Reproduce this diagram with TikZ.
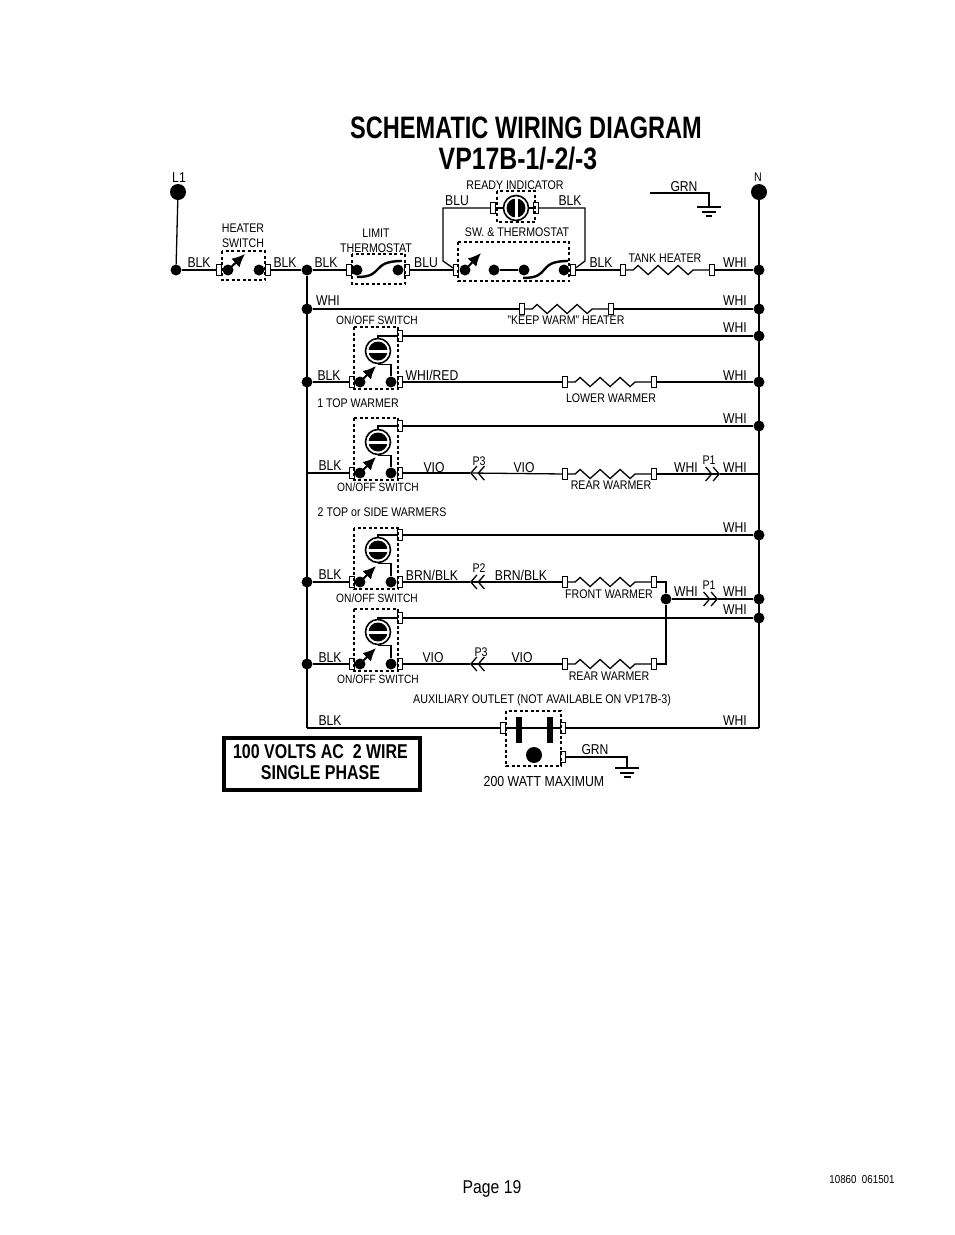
\documentclass[tikz,border=0pt]{standalone}
\usepackage{fontspec}
\setmainfont[FakeStretch=0.85]{Liberation Sans}
\newfontfamily\titlefont[FakeStretch=0.8]{Liberation Sans}
\newfontfamily\headfont[FakeStretch=0.76]{Liberation Sans}
\usetikzlibrary{positioning, calc, arrows.meta, decorations.pathmorphing}
\tikzset{
  wire/.style={line width=1.3pt},
  heavy/.style={line width=2pt},
  lab/.style={inner sep=0pt, yshift=-1pt, font=\fontsize{14.3}{15}\selectfont, align=center},
  sml/.style={inner sep=0pt, font=\fontsize{12.5}{14.5}\selectfont, align=center},
  swl/.style={inner sep=0pt, font=\fontsize{12}{14}\selectfont},
  dot/.style={circle, fill=black, inner sep=0pt, minimum size=11pt},
  bigdot/.style={circle, fill=black, inner sep=0pt, minimum size=16pt},
  term/.style={rectangle, draw=black, fill=white, line width=1.2pt, inner sep=0pt, minimum width=5pt, minimum height=10.5pt},
  dashbox/.style={line width=1.5pt, dash pattern=on 3pt off 2.5pt},
  lever/.style={line width=2pt, -{Latex[length=13pt,width=12pt]}},
  bimetal/.style={line width=2.4pt},
  knob/.style={circle, draw=black, fill=white, line width=1.6pt, inner sep=0pt, minimum size=25pt},
  heater/.style={wire, decorate, decoration={zigzag, segment length=20pt, amplitude=4.5pt, pre length=7pt, post length=7pt}},
  chev/.style={wire, -{Straight Barb[length=6pt,width=14pt,line width=1.3pt]Straight Barb[length=6pt,width=14pt,line width=1.3pt]}}
}
\begin{document}
\begin{tikzpicture}[x=1pt,y=-1pt]
      \useasboundingbox (0,0) rectangle (954,1235);
      \node[font=\headfont\bfseries\fontsize{31}{31}\selectfont, inner sep=0pt] (title1) at (526,128) {SCHEMATIC WIRING DIAGRAM};
      \node[font=\titlefont\bfseries\fontsize{31}{31}\selectfont, inner sep=0pt] (title2) at (518,159) {VP17B-1/-2/-3};
      % mains and top row
      \node[bigdot] (l1) at (178,192) {};
      \node[bigdot] (n1) at (759,192) {};
      \node[dot] (j0) at (176,270) {};
      \node[dot] (j1) at (307,270) {};
      \node[dot] (j2) at (307,309) {};
      \node[dot] (j3) at (307,382) {};
      \node[dot] (j4) at (307,582) {};
      \node[dot] (j5) at (307,664) {};
      \coordinate (j6) at (307,473);
      \coordinate (j7) at (307,728);
      \node[dot] (r1) at (759,270) {};
      \node[dot] (r2) at (759,309) {};
      \node[dot] (r3) at (759,336) {};
      \node[dot] (r4) at (759,382) {};
      \node[dot] (r5) at (759,426) {};
      \coordinate (r6) at (759,474);
      \node[dot] (r7) at (759,535) {};
      \node[dot] (r8) at (759,599) {};
      \node[dot] (r9) at (759,618) {};
      \coordinate (r10) at (759,728);
      \draw[wire] (l1)--(j0);
      \draw[wire] (n1)--(r10);
      \draw[wire] (j1)--(j7);
      \draw[wire] (j7)--(r10);
      % heater switch
      \node[term] (hs1) at (219,270) {};
      \node[term] (hs2) at (268,270) {};
      \node[dot] (hs3) at (228,270) {};
      \node[dot] (hs4) at (259,270) {};
      \draw[dashbox] (222,251) rectangle (265,280);
      \draw[lever] (hs3.center)--++(17,-16);
      \draw[wire] (j0)--(hs1);
      \draw[wire] (hs2)--(j1);
      % limit thermostat
      \node[term] (lt1) at (349,270) {};
      \node[term] (lt2) at (407,270) {};
      \node[dot] (lt3) at (357,270) {};
      \node[dot] (lt4) at (398,270) {};
      \draw[dashbox] (352,254) rectangle (405,284);
      \draw[bimetal] (357,277) .. controls (385,277) and (370,261) .. (402,261);
      \draw[wire] (j1)--(lt1);
      \node[term] (st1) at (456,270) {};
      \draw[wire] (lt2)--(st1);
      % sw. and thermostat
      \node[term] (st2) at (573,270) {};
      \node[dot] (st3) at (465,270) {};
      \node[dot] (st4) at (494,270) {};
      \node[dot] (st5) at (524,270) {};
      \node[dot] (st6) at (564,270) {};
      \draw[dashbox] (458,242) rectangle (569,281);
      \draw[lever] (st3.center)--++(16,-17);
      \draw[wire] (st4)--(st5);
      \draw[bimetal] (523,278) .. controls (552,278) and (536,261) .. (568,261);
      % ready indicator
      \node[term] (ri1) at (493,208) {};
      \node[term] (ri2) at (536,208) {};
      \node[knob] (ri3) at (516,208) {};
      \fill (ri3.center) circle[radius=9.5];
      \fill[white] (ri3.center) ++(-1.5,-11) rectangle ++(3,22);
      \draw[dashbox] (497,191) rectangle (535,222);
      \coordinate (bl1) at (443,208);
      \coordinate (bl2) at (443,261);
      \coordinate (bk1) at (585,208);
      \coordinate (bk2) at (585,261);
      \draw[wire] (st1)--(bl2)--(bl1)--(ri1);
      \draw[wire] (ri3)--(ri1);
      \draw[wire] (ri3)--(ri2);
      \draw[wire] (ri2)--(bk1)--(bk2)--(st2);
      % tank heater
      \node[term] (th1) at (623,270) {};
      \node[term] (th2) at (712,270) {};
      \draw[wire] (st2)--(th1);
      \draw[heater] (th1)--(th2);
      \draw[wire] (th2)--(r1);
      % ground top
      \coordinate (g1) at (650,193);
      \coordinate (g2) at (709,207);
      \draw[heavy] (g1)-|(g2);
      \draw[wire] (g2) ++(-12,0)--++(24,0);
      \draw[wire] (g2) ++(-7,5)--++(14,0);
      \draw[heavy] (g2) ++(-3,9)--++(6,0);
      % keep warm
      \node[term] (kw1) at (522,309) {};
      \node[term] (kw2) at (611,309) {};
      \draw[heavy] (j2)--(kw1);
      \draw[heater] (kw1)--(kw2);
      \draw[heavy] (kw2)--(r2);
      % first on/off switch
      \node[term] (a1) at (400,336) {};
      \node[term] (a2) at (352,382) {};
      \node[term] (a3) at (400,382) {};
      \node[knob] (a4) at (378,351) {};
      \fill (a4.center) circle[radius=9.5];
      \fill[white] (a4.center) ++(-11,-1.5) rectangle ++(22,3);
      \node[dot] (a5) at (360,382) {};
      \node[dot] (a6) at (391,382) {};
      \draw[dashbox] (354,327) rectangle (398,389);
      \draw[lever] (a5.center)--++(16,-16);
      \draw[wire] (a4.north)|-(a1);
      \draw[wire] (a4.south)-|(a6);
      \draw[wire] (a1)--(r3);
      \draw[wire] (j3)--(a2);
      \node[term] (lw1) at (565,382) {};
      \node[term] (lw2) at (654,382) {};
      \draw[wire] (a3)--(lw1);
      \draw[heater] (lw1)--(lw2);
      \draw[wire] (lw2)--(r4);
      % second on/off switch
      \node[term] (b1) at (400,426) {};
      \node[term] (b2) at (352,473) {};
      \node[term] (b3) at (400,473) {};
      \node[knob] (b4) at (378,442) {};
      \fill (b4.center) circle[radius=9.5];
      \fill[white] (b4.center) ++(-11,-1.5) rectangle ++(22,3);
      \node[dot] (b5) at (360,473) {};
      \node[dot] (b6) at (391,473) {};
      \draw[dashbox] (354,418) rectangle (398,480);
      \draw[lever] (b5.center)--++(16,-16);
      \draw[wire] (b4.north)|-(b1);
      \draw[wire] (b4.south)-|(b6);
      \draw[wire] (b1)--(r5);
      \draw[wire] (j6)--(b2);
      \coordinate (p3a) at (470,473);
      \coordinate (p1a) at (720,474);
      \node[term] (rw1) at (565,474) {};
      \node[term] (rw2) at (654,474) {};
      \draw[wire] (b3)--(p3a);
      \draw[chev] (rw1)--(p3a);
      \draw[heater] (rw1)--(rw2);
      \draw[chev] (rw2)--(p1a);
      \draw[wire] (p1a)--(r6);
      % third on/off switch
      \node[term] (c1) at (400,535) {};
      \node[term] (c2) at (352,582) {};
      \node[term] (c3) at (400,582) {};
      \node[knob] (c4) at (378,550) {};
      \fill (c4.center) circle[radius=9.5];
      \fill[white] (c4.center) ++(-11,-1.5) rectangle ++(22,3);
      \node[dot] (c5) at (360,582) {};
      \node[dot] (c6) at (391,582) {};
      \draw[dashbox] (354,528) rectangle (398,589);
      \draw[lever] (c5.center)--++(16,-16);
      \draw[wire] (c4.north)|-(c1);
      \draw[wire] (c4.south)-|(c6);
      \draw[wire] (c1)--(r7);
      \draw[wire] (j4)--(c2);
      \coordinate (p2a) at (470,582);
      \coordinate (p1b) at (718,599);
      \node[term] (fw1) at (565,582) {};
      \node[term] (fw2) at (654,582) {};
      \node[dot] (fw3) at (666,599) {};
      \draw[wire] (c3)--(p2a);
      \draw[chev] (fw1)--(p2a);
      \draw[heater] (fw1)--(fw2);
      \draw[chev] (fw3)--(p1b);
      \draw[heavy] (p1b)--(r8);
      % fourth on/off switch
      \node[term] (d1) at (400,618) {};
      \node[term] (d2) at (352,664) {};
      \node[term] (d3) at (400,664) {};
      \node[knob] (d4) at (378,632) {};
      \fill (d4.center) circle[radius=9.5];
      \fill[white] (d4.center) ++(-11,-1.5) rectangle ++(22,3);
      \node[dot] (d5) at (360,664) {};
      \node[dot] (d6) at (391,664) {};
      \draw[dashbox] (354,609) rectangle (398,671);
      \draw[lever] (d5.center)--++(16,-16);
      \draw[wire] (d4.north)|-(d1);
      \draw[wire] (d4.south)-|(d6);
      \draw[wire] (d1)--(r9);
      \draw[wire] (j5)--(d2);
      \coordinate (p3b) at (470,664);
      \node[term] (rx1) at (565,664) {};
      \node[term] (rx2) at (654,664) {};
      \draw[wire] (d3)--(p3b);
      \draw[chev] (rx1)--(p3b);
      \draw[heater] (rx1)--(rx2);
      \draw[wire] (fw2)-|(fw3);
      \draw[wire] (rx2)-|(fw3);
      % outlet
      \node[term] (ou1) at (503,728) {};
      \node[term] (ou2) at (563,728) {};
      \node[term] (ou3) at (563,757) {};
      \node[bigdot] (ou4) at (534,755) {};
      \draw[dashbox] (506,711) rectangle (561,766);
      \fill (516,717) rectangle (522,743);
      \fill (547,717) rectangle (553,743);
      \coordinate (g3) at (627,768);
      \draw[wire] (ou3)-|(g3);
      \draw[heavy] (g3) ++(-12,0)--++(24,0);
      \draw[wire] (g3) ++(-7,5)--++(14,0);
      \draw[wire] (g3) ++(-3.5,9)--++(7,0);
      % supply box
      \draw[line width=3.5pt] (224,738) rectangle (420,790);
      \node[inner sep=0pt, align=center, font=\titlefont\bfseries\fontsize{20}{21}\selectfont] (volts) at (320.5,762) {100 VOLTS AC\ \ 2 WIRE\\SINGLE PHASE};
      % labels
      \node[lab] (tl1) at (179,177) {L1};
      \node[sml] (tn) at (758,177) {N};
      \node[lab] (t1) at (199,262) {BLK};
      \node[sml] (t2) at (243,236) {HEATER\\SWITCH};
      \node[lab] (t3) at (285,262) {BLK};
      \node[lab] (t4) at (326,262) {BLK};
      \node[sml] (t5) at (376,241) {LIMIT\\THERMOSTAT};
      \node[lab] (t6) at (426,262) {BLU};
      \node[lab] (t7) at (457,200) {BLU};
      \node[sml] (t8) at (515,185) {READY INDICATOR};
      \node[lab] (t9) at (570,200) {BLK};
      \node[sml] (t10) at (517,232) {SW. \& THERMOSTAT};
      \node[lab] (t11) at (601,262) {BLK};
      \node[sml] (t12) at (665,258) {TANK HEATER};
      \node[lab] (t13) at (735,262) {WHI};
      \node[lab] (t14) at (684,186) {GRN};
      \node[lab] (t15) at (328,300) {WHI};
      \node[lab] (t16) at (735,300) {WHI};
      \node[sml] (t17) at (566,320) {"KEEP WARM" HEATER};
      \node[swl] (t18) at (377,320) {ON/OFF SWITCH};
      \node[lab] (t19) at (735,327) {WHI};
      \node[lab] (t20) at (329,375) {BLK};
      \node[lab] (t21) at (432,374) {WHI/RED};
      \node[lab] (t22) at (735,375) {WHI};
      \node[sml] (t23) at (611,398) {LOWER WARMER};
      \node[sml] (t24) at (358,403) {1 TOP WARMER};
      \node[lab] (t25) at (735,418) {WHI};
      \node[lab] (t26) at (330,465) {BLK};
      \node[lab] (t27) at (434,467) {VIO};
      \node[sml] (t28) at (479,461) {P3};
      \node[lab] (t29) at (524,467) {VIO};
      \node[lab] (t30) at (686,467) {WHI};
      \node[sml] (t31) at (709,460) {P1};
      \node[lab] (t32) at (735,467) {WHI};
      \node[sml] (t33) at (611,485) {REAR WARMER};
      \node[swl] (t34) at (378,487) {ON/OFF SWITCH};
      \node[sml] (t35) at (382,512) {2 TOP or SIDE WARMERS};
      \node[lab] (t36) at (735,527) {WHI};
      \node[lab] (t37) at (330,574) {BLK};
      \node[lab] (t38) at (432,574) {BRN/BLK};
      \node[sml] (t39) at (479,568) {P2};
      \node[lab] (t40) at (521,574) {BRN/BLK};
      \node[sml] (t41) at (609,594) {FRONT WARMER};
      \node[lab] (t42) at (686,591) {WHI};
      \node[sml] (t43) at (709,585) {P1};
      \node[lab] (t44) at (735,591) {WHI};
      \node[lab] (t45) at (735,609) {WHI};
      \node[swl] (t46) at (377,598) {ON/OFF SWITCH};
      \node[lab] (t47) at (330,657) {BLK};
      \node[lab] (t48) at (433,657) {VIO};
      \node[sml] (t49) at (481,652) {P3};
      \node[lab] (t50) at (522,657) {VIO};
      \node[sml] (t51) at (609,676) {REAR WARMER};
      \node[swl] (t52) at (378,679) {ON/OFF SWITCH};
      \node[sml, font=\fontsize{12.6}{14}\selectfont] (t53) at (542,700) {AUXILIARY OUTLET (NOT AVAILABLE ON VP17B-3)};
      \node[lab] (t54) at (330,720) {BLK};
      \node[lab] (t55) at (735,720) {WHI};
      \node[lab] (t56) at (595,749) {GRN};
      \node[lab, font=\fontsize{14.5}{15}\selectfont] (t57) at (544,780) {200 WATT MAXIMUM};
      \node[inner sep=0pt, font=\fontsize{18.5}{19}\selectfont] (page) at (492,1189) {Page 19};
      \node[inner sep=0pt, font=\fontsize{11.5}{12}\selectfont] (code) at (862,1180) {10860\ \ 061501};
\end{tikzpicture}
\end{document}
